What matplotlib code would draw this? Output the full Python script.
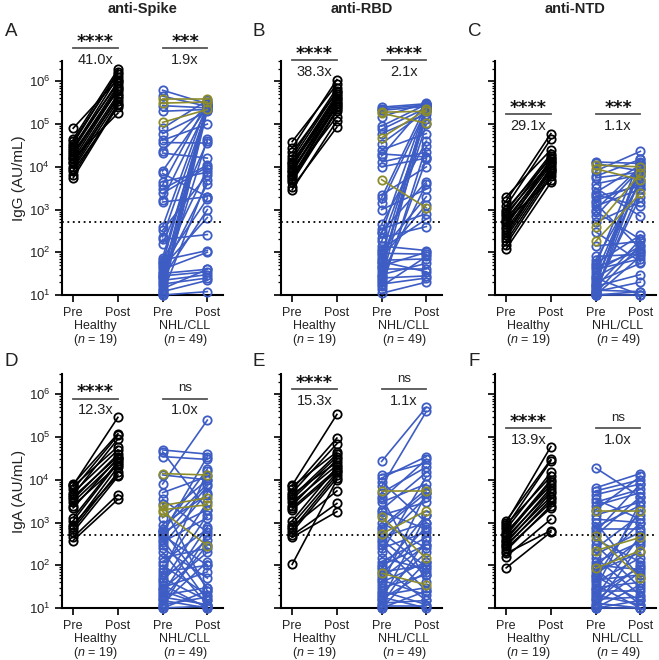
import matplotlib
matplotlib.use("Agg")
import matplotlib.pyplot as plt

plt.rcParams['font.family'] = ['Liberation Sans', 'DejaVu Sans']
plt.rcParams['mathtext.fontset'] = 'custom'
plt.rcParams['mathtext.rm'] = 'Liberation Sans'
plt.rcParams['mathtext.it'] = 'Liberation Sans:italic'

# ---- data (AU/mL) ----
# panel A: anti-Spike IgG
a_hc_pre = [8e4, 4.5e4, 4.0e4, 3.5e4, 3.0e4, 2.8e4, 2.5e4, 2.2e4, 2.0e4, 1.8e4,
            1.6e4, 1.5e4, 1.3e4, 1.2e4, 1.0e4, 9e3, 8e3, 6.5e3, 5.5e3]
a_hc_post = [1.1e6, 1.9e6, 1.5e6, 1.7e6, 9e5, 1.3e6, 1.0e6, 6e5, 8e5, 7e5,
             1.8e5, 6.5e5, 5e5, 4e5, 4.5e5, 3.5e5, 2.5e5, 3e5, 2.8e5]
a_nhl_pre = [6.2e5, 4.5e5, 2.7e5, 2.0e5, 8.0e4, 6.0e4, 4.2e4, 3.7e4, 2.3e4, 2.1e4,
             8.0e3, 7.0e3, 4.5e3, 3.8e3, 3.0e3, 2.4e3, 1.7e3, 1.5e3, 4.0e2, 3.3e2,
             2.3e2, 2.0e2, 1.6e2, 75, 65, 55, 50, 45, 40, 35,
             32, 30, 28, 25, 22, 20, 18, 16, 13, 12,
             11, 10, 10, 14, 26, 60]
a_nhl_post = [3.0e5, 2.6e5, 2.4e5, 2.2e5, 3.6e5, 2.0e5, 1.0e5, 3.6e4, 2.8e5, 1.6e4,
              2.5e5, 2.0e3, 7.5e3, 3.3e5, 1.1e4, 1.0e4, 2.4e5, 2.0e3, 3.0e5, 6.5e3,
              2.2e5, 2.6e2, 4.0e4, 2.3e5, 1.1e2, 2.7e5, 1.8e3, 6.5e2, 1.0e2, 4.0e3,
              40, 2.8e5, 35, 1.0e3, 30, 4.5e4, 25, 3.2e5, 2.4e5, 22,
              5.0e3, 12, 2.1e5, 40, 2.5e5, 9.0e3]
a_ol_pre = [3.9e5, 3.1e5, 1.1e5]
a_ol_post = [3.9e5, 3.3e5, 2.2e5]

# panel B: anti-RBD IgG
b_hc_pre = [3.9e4, 2.8e4, 2.2e4, 1.8e4, 1.5e4, 1.3e4, 1.2e4, 1.1e4, 1.0e4, 9e3,
            8e3, 7.5e3, 6.5e3, 6e3, 5.5e3, 5e3, 4.5e3, 3.3e3, 2.9e3]
b_hc_post = [8.5e5, 1.1e6, 5.5e5, 7e5, 6e5, 4e5, 5e5, 3.5e5, 4.5e5, 2.5e5,
             3.8e5, 3.2e5, 1.5e5, 3e5, 2.7e5, 2.2e5, 2e5, 8.5e4, 1.2e5]
b_nhl_pre = [2.5e5, 2.3e5, 2.1e5, 1.5e5, 7.5e4, 6.0e4, 3.5e4, 2.5e4, 1.8e4, 1.3e4,
             1.0e4, 2.2e3, 1.9e3, 1.4e3, 1.0e3, 4.5e2, 3.5e2, 2.8e2, 2.2e2, 1.8e2,
             1.4e2, 1.1e2, 95, 85, 75, 65, 55, 48, 40, 35,
             30, 25, 22, 18, 16, 14, 11, 20, 28, 45,
             60, 1.2e2, 3.0e2, 2.0e4, 9.0e4]
b_nhl_post = [3.0e5, 2.8e5, 2.6e5, 3.1e5, 2.4e5, 1.7e5, 2.0e5, 6.0e4, 3.0e5, 2.2e4,
              1.6e4, 1.0e4, 2.8e5, 2.2e5, 3.0e3, 4.0e4, 8.0e2, 2.6e5, 4.0e2, 1.3e5,
              1.1e2, 2.0e3, 90, 2.3e5, 1.3e3, 70, 1.0e5, 1.0e2, 40, 2.7e5,
              55, 28, 2.0e5, 25, 80, 3.0e4, 20, 1.5e4, 4.0e3, 2.5e5,
              35, 6.0e2, 4.5e3, 1.7e4, 2.9e5]
b_ol_pre = [1.9e5, 1.8e5, 4.8e4, 5.0e3]
b_ol_post = [2.0e5, 1.05e5, 2.2e5, 1.1e3]

# panel C: anti-NTD IgG
c_hc_pre = [2.0e3, 1.6e3, 1.2e3, 1.0e3, 9e2, 8e2, 7e2, 6e2, 5.5e2, 5e2,
            4.5e2, 4e2, 3.5e2, 3e2, 2.5e2, 2.2e2, 1.8e2, 1.5e2, 1.2e2]
c_hc_post = [2.5e4, 6e4, 4.5e4, 1.6e4, 2.0e4, 1.3e4, 1.8e4, 1.2e4, 5e3, 1.5e4,
             1.1e4, 1.4e4, 9e3, 8.5e3, 1.0e4, 8e3, 7e3, 6e3, 4.3e3]
c_nhl_pre = [1.3e4, 1.2e4, 8.0e3, 6.0e3, 4.0e3, 3.2e3, 2.5e3, 2.0e3, 1.6e3, 1.4e3,
             1.2e3, 9.0e2, 7.0e2, 5.0e2, 3.0e2, 1.4e2, 55, 50, 40, 35,
             30, 26, 22, 20, 18, 16, 14, 13, 12, 11,
             11, 10, 10, 10, 12, 15, 17, 25, 45, 65,
             80, 1.0e3, 2.2e3, 5.5e3, 10]
c_nhl_post = [1.2e4, 8.0e3, 2.3e4, 1.5e4, 6.5e3, 7.0e2, 1.1e4, 3.5e3, 4.0e3, 1.2e2,
              3.0e3, 2.0e2, 9.0e3, 1.5e3, 60, 1.8e2, 2.5e2, 1.5e4, 70, 1.4e2,
              8.0e3, 1.0e2, 5.0e3, 55, 1.0e4, 30, 2.0e3, 12, 3.0e3, 1.5e2,
              6.0e3, 10, 1.3e4, 80, 20, 2.0e2, 1.2e4, 10, 1.1e2, 4.5e3,
              90, 1.0e4, 1.2e3, 7.5e3, 12]
c_ol_pre = [1.1e4, 9.0e3, 4.0e2, 1.8e2]
c_ol_post = [1.0e4, 5.0e3, 7.0e3, 2.4e3]

# panel D: anti-Spike IgA
d_hc_pre = [8e3, 7.5e3, 7e3, 6e3, 5e3, 4.5e3, 4e3, 3.5e3, 3e3, 2.5e3,
            2.2e3, 1.3e3, 1.1e3, 9e2, 8e2, 7e2, 6e2, 4.5e2, 3.8e2]
d_hc_post = [1.2e5, 2.9e5, 6e4, 1.1e5, 5e4, 9e4, 3.5e4, 4e4, 3e4, 2.2e4,
             3.2e4, 2.7e4, 2.5e4, 1.3e4, 2e4, 1.5e4, 1.2e4, 4.5e3, 3.5e3]
d_nhl_pre = [5.0e4, 4.5e4, 3.5e4, 1.3e4, 8.0e3, 5.0e3, 3.5e3, 2.7e3, 1.3e3, 7.0e2,
             6.5e2, 6.0e2, 5.5e2, 5.0e2, 4.5e2, 4.0e2, 3.5e2, 3.0e2, 2.5e2, 2.0e2,
             1.5e2, 1.2e2, 1.0e2, 80, 70, 60, 50, 45, 40, 35,
             30, 28, 25, 22, 20, 18, 16, 15, 13, 12,
             11, 10, 10, 9.0e2, 6.5e2]
d_nhl_post = [4.0e4, 2.0e3, 3.0e4, 1.0e4, 2.5e5, 1.2e4, 6.0e2, 25, 1.0e4, 8.0e3,
              30, 2.0e3, 3.5e4, 1.0e2, 7.0e3, 15, 1.3e3, 5.0e3, 50, 12,
              2.5e2, 7.0e2, 20, 3.0e3, 1.0e2, 1.6e4, 15, 4.0e2, 1.5e3, 10,
              70, 2.0e2, 11, 8.0e2, 30, 12, 3.0e2, 10, 1.2e2, 18,
              5.0e2, 25, 11, 4.5e3, 1.8e4]
d_ol_pre = [1.4e4, 2.5e3, 2.0e3, 1.8e3]
d_ol_post = [1.3e4, 3.8e3, 2.6e3, 2.9e2]

# panel E: anti-RBD IgA
e_hc_pre = [7.5e3, 7e3, 6e3, 5e3, 4.5e3, 4e3, 3.5e3, 3e3, 2.5e3, 2.2e3,
            2e3, 1.1e3, 9e2, 8e2, 7e2, 6e2, 5e2, 4.5e2, 1.05e2]
e_hc_post = [3.4e5, 4.5e4, 9.5e4, 7e4, 2.6e4, 4e4, 3.5e4, 2.2e4, 3e4, 1.8e4,
             1.6e4, 2e4, 1.5e4, 5.5e3, 1.3e4, 1.1e4, 2.8e3, 1.8e3, 1.0e4]
e_nhl_pre = [2.7e4, 1.3e4, 1.1e4, 9.0e3, 7.0e3, 5.0e3, 4.0e3, 3.0e3, 2.0e3, 1.5e3,
             1.0e3, 8.0e2, 7.0e2, 6.0e2, 4.5e2, 3.5e2, 3.0e2, 2.5e2, 2.0e2, 1.5e2,
             1.2e2, 1.0e2, 90, 80, 70, 60, 50, 45, 40, 35,
             30, 25, 22, 20, 18, 16, 15, 13, 12, 11,
             10, 10, 1.8e3, 4.0e2, 3.5e3]
e_nhl_post = [5.0e5, 2.5e4, 3.5e4, 1.0e3, 4.0e5, 2.0e4, 40, 8.0e3, 1.5e4, 3.0e3,
              2.5e2, 6.0e3, 5.0e3, 90, 1.0e3, 4.0e3, 25, 6.0e2, 1.2e4, 80,
              4.5e2, 3.0e2, 15, 1.5e3, 1.0e2, 8.0e2, 3.0e2, 20, 1.2e2, 5.0e3,
              60, 12, 2.0e2, 30, 10, 70, 1.5e3, 15, 4.0e2, 11,
              1.2e2, 25, 7.0e2, 60, 3.0e4]
e_ol_pre = [5.5e3, 1.35e3, 5.4e2, 65]
e_ol_post = [5.5e3, 1.45e2, 1.9e3, 35]

# panel F: anti-NTD IgA
f_hc_pre = [1.1e3, 1.0e3, 9e2, 8e2, 7e2, 6e2, 5.5e2, 5e2, 4.5e2, 4e2,
            3.7e2, 3.3e2, 3e2, 2.8e2, 2.5e2, 2.2e2, 1.9e2, 1.6e2, 87]
f_hc_post = [3e4, 6e4, 1.2e4, 2.8e4, 1.5e4, 7.5e3, 1.0e4, 9e3, 5.5e3, 6.5e3,
             4e3, 5e3, 3e3, 3.5e3, 2.2e3, 2.5e3, 6.5e2, 1.2e3, 6.0e2]
f_nhl_pre = [1.9e4, 6.5e3, 5.5e3, 4.5e3, 3.5e3, 3.0e3, 2.5e3, 1.5e3, 1.2e3, 1.0e3,
             8.0e2, 7.0e2, 5.0e2, 4.0e2, 3.0e2, 2.5e2, 1.8e2, 1.5e2, 1.2e2, 1.0e2,
             90, 80, 70, 60, 55, 50, 45, 40, 35, 30,
             28, 25, 22, 20, 18, 16, 15, 13, 12, 11,
             10, 10, 10, 6.0e2, 2.0e3]
f_nhl_post = [4.0e3, 1.4e4, 1.0e4, 8.0e3, 1.2e3, 6.0e3, 5.0e3, 3.0e3, 1.0e3, 50,
              2.5e3, 7.0e2, 4.0e3, 1.2e2, 30, 1.5e3, 6.0e2, 20, 3.5e2, 80,
              1.0e3, 12, 2.0e2, 4.0e2, 15, 2.0e3, 60, 1.5e2, 10, 40,
              3.0e3, 25, 90, 12, 5.0e2, 18, 1.0e2, 10, 70, 3.0e2,
              15, 35, 10, 8.0e3, 1.2e4]
f_ol_pre = [1.9e3, 4.9e2, 2.2e2, 85]
f_ol_post = [1.9e3, 50, 4.5e2, 2.2e2]

titles = ['anti-Spike', 'anti-RBD', 'anti-NTD']
letters = ['A', 'B', 'C', 'D', 'E', 'F']
ylabels = ['IgG (AU/mL)', 'IgA (AU/mL)']
hc_stars = ['****', '****', '****', '****', '****', '****']
nhl_stars = ['***', '****', '***', 'ns', 'ns', 'ns']
hc_fold = ['41.0x', '38.3x', '29.1x', '12.3x', '15.3x', '13.9x']
nhl_fold = ['1.9x', '2.1x', '1.1x', '1.0x', '1.1x', '1.0x']
bar_y = [5.9e6, 3.1e6, 1.7e5, 8e5, 1.35e6, 1.6e5]
cutoff = 500

panels = [
    (a_hc_pre, a_hc_post, a_nhl_pre, a_nhl_post, a_ol_pre, a_ol_post),
    (b_hc_pre, b_hc_post, b_nhl_pre, b_nhl_post, b_ol_pre, b_ol_post),
    (c_hc_pre, c_hc_post, c_nhl_pre, c_nhl_post, c_ol_pre, c_ol_post),
    (d_hc_pre, d_hc_post, d_nhl_pre, d_nhl_post, d_ol_pre, d_ol_post),
    (e_hc_pre, e_hc_post, e_nhl_pre, e_nhl_post, e_ol_pre, e_ol_post),
    (f_hc_pre, f_hc_post, f_nhl_pre, f_nhl_post, f_ol_pre, f_ol_post),
]

BLUE = '#3d5cc4'
OLIVE = '#8c8c2a'
TXT = '#222222'

fig = plt.figure(figsize=(6.59, 6.60), dpi=100)
W, H = 659, 660
lefts = [62, 281, 495]
bottoms = [295, 608]
ax_w, ax_h = 161, 234


def pairs(ax, pre, post, x0, color, lw=1.2):
    for p, q in zip(pre, post):
        ax.plot([x0, x0 + 1], [p, q], color=color, lw=lw, marker='o', ms=6,
                mfc='none', mew=1.3, clip_on=False, zorder=3)


for i, (hpre, hpost, npre, npost, opre, opost) in enumerate(panels):
    row, col = divmod(i, 3)
    ax = fig.add_axes([lefts[col] / W, 1 - bottoms[row] / H, ax_w / W, ax_h / H])
    ax.set_yscale('log')
    ax.set_ylim(10, 3e6)
    ax.set_xlim(-0.25, 3.35)

    pairs(ax, hpre, hpost, 0, 'black')
    pairs(ax, npre, npost, 2, BLUE)
    pairs(ax, opre, opost, 2, OLIVE)
    ax.axhline(cutoff, ls=(0, (1, 2)), color='black', lw=1.3, zorder=4)

    for s in ['top', 'right']:
        ax.spines[s].set_visible(False)
    for s in ['left', 'bottom']:
        ax.spines[s].set_linewidth(1.5)
    ax.tick_params(axis='both', which='major', direction='out', length=5, width=1.4,
                   labelsize=9.5, colors=TXT)
    ax.tick_params(axis='y', which='minor', direction='out', length=2.5, width=0.9)
    ax.set_xticks([0, 1, 2, 3])
    ax.set_xticklabels(['Pre', 'Post', 'Pre', 'Post'], fontsize=9)
    if col == 0:
        ax.set_ylabel(ylabels[row], fontsize=11, labelpad=2, color=TXT)
    else:
        ax.tick_params(axis='y', which='both', labelleft=False)

    for xc, lab, n in [(0.5, 'Healthy', 19), (2.5, 'NHL/CLL', 49)]:
        ax.annotate(lab, xy=(xc, 0), xycoords=('data', 'axes fraction'),
                    xytext=(0, -22), textcoords='offset points',
                    ha='center', va='center', fontsize=9, color=TXT)
        ax.annotate(r'($\it{n}$ = %d)' % n, xy=(xc, 0), xycoords=('data', 'axes fraction'),
                    xytext=(0, -32.5), textcoords='offset points',
                    ha='center', va='center', fontsize=9, color=TXT)

    yb = bar_y[i]
    for x0, st, fold in [(0, hc_stars[i], hc_fold[i]), (2, nhl_stars[i], nhl_fold[i])]:
        ax.plot([x0, x0 + 1], [yb, yb], color='#555555', lw=1.3, clip_on=False)
        if st == 'ns':
            ax.annotate(st, xy=(x0 + 0.5, yb), xytext=(0, 5.2), textcoords='offset points',
                        ha='center', va='baseline', fontsize=9.5, color=TXT,
                        annotation_clip=False)
        else:
            ax.annotate(st, xy=(x0 + 0.5, yb), xytext=(0, 0.8), textcoords='offset points',
                        ha='center', va='baseline', fontsize=12.5, fontweight='bold',
                        family='DejaVu Sans', color='#111111', annotation_clip=False)
        ax.annotate(fold, xy=(x0 + 0.5, yb), xytext=(0, -11.5), textcoords='offset points',
                    ha='center', va='baseline', fontsize=10.5, color=TXT,
                    annotation_clip=False)

    lx = [5, 253, 468][col]
    ly = [32, 362][row]
    fig.text(lx / W, 1 - ly / H, letters[i], fontsize=13.5, ha='left', va='center',
             color=TXT)

for col in range(3):
    fig.text((lefts[col] + ax_w / 2) / W, 1 - 9 / H, titles[col], fontsize=10.5,
             fontweight='bold', ha='center', va='center', color=TXT)

fig.savefig('out.png', dpi=100)
